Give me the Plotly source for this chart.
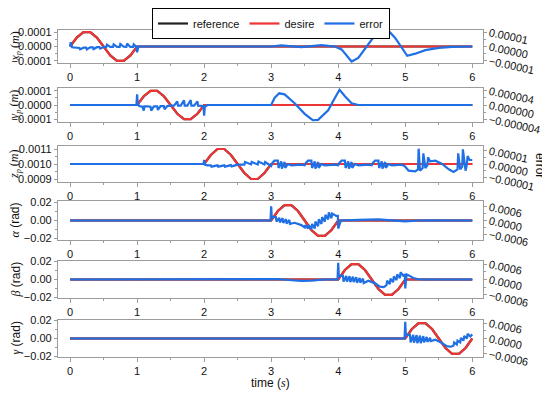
import plotly.graph_objects as go

# ---------------- data ----------------
# desired trajectories (left axes)
t_des_xp = [0.0, 0.1, 0.2, 0.3, 0.4, 0.5, 0.6, 0.7, 0.8, 0.9, 1.0, 6.0]
xp_des = [0, 6.2e-5, 1.0e-4, 1.0e-4, 6.2e-5, 0, -6.2e-5, -1.0e-4, -1.0e-4, -6.2e-5, 0, 0]

t_des_yp = [0.0, 1.0, 1.1, 1.2, 1.3, 1.4, 1.5, 1.6, 1.7, 1.8, 1.9, 2.0, 6.0]
yp_des = [0, 0, 6.2e-5, 1.0e-4, 1.0e-4, 6.2e-5, 0, -6.2e-5, -1.0e-4, -1.0e-4, -6.2e-5, 0, 0]

t_des_zp = [0.0, 2.0, 2.1, 2.2, 2.3, 2.4, 2.5, 2.6, 2.7, 2.8, 2.9, 3.0, 6.0]
zp_des = [0.001, 0.001, 0.00106, 0.0011, 0.0011, 0.00106, 0.001, 0.00094, 0.0009, 0.0009, 0.00094, 0.001, 0.001]

t_des_al = [0.0, 3.0, 3.1, 3.2, 3.3, 3.4, 3.5, 3.6, 3.7, 3.8, 3.9, 4.0, 6.0]
al_des = [0, 0, 0.0105, 0.017, 0.017, 0.0105, 0, -0.0105, -0.017, -0.017, -0.0105, 0, 0]

t_des_be = [0.0, 4.0, 4.1, 4.2, 4.3, 4.4, 4.5, 4.6, 4.7, 4.8, 4.9, 5.0, 6.0]
be_des = [0, 0, 0.0105, 0.017, 0.017, 0.0105, 0, -0.0105, -0.017, -0.017, -0.0105, 0, 0]

t_des_ga = [0.0, 5.0, 5.1, 5.2, 5.3, 5.4, 5.5, 5.6, 5.7, 5.8, 5.9, 6.0]
ga_des = [0, 0, 0.0105, 0.017, 0.017, 0.0105, 0, -0.0105, -0.017, -0.017, -0.0105, 0]

# tracking errors (right axes)
t_err_xp = [0, 0.01, 0.03, 0.1, 0.14, 0.15, 0.2, 0.24, 0.25, 0.3, 0.34, 0.35, 0.4, 0.44, 0.45,
            0.5, 0.54, 0.55, 0.6, 0.64, 0.65, 0.7, 0.74, 0.75, 0.8, 0.84, 0.85, 0.9, 0.94, 0.95,
            0.99, 1.0, 1.02, 1.05, 3.0, 3.15, 3.45, 3.75, 3.95, 4.05, 4.2, 4.3, 4.42, 4.55, 4.65,
            4.75, 4.85, 4.95, 5.03, 5.15, 5.3, 5.5, 5.7, 6.0]
xp_err = [0, 3e-6, -0.5e-6, -1e-6, -1e-6, -2e-6, -0.8e-6, -0.8e-6, -2e-6, -0.6e-6, -0.6e-6, -1.8e-6,
          -0.5e-6, -0.5e-6, -1.5e-6, -0.4e-6, -0.3e-6, 1.2e-6, -0.3e-6, -0.3e-6, 1.5e-6, -0.3e-6,
          -0.3e-6, 1.8e-6, -0.2e-6, -0.3e-6, 2e-6, -0.3e-6, -0.3e-6, 1.5e-6, -0.3e-6, -4e-6, 0, 0,
          0, 0.8e-6, -0.4e-6, 0.9e-6, 0, -2e-6, -10.5e-6, -8e-6, 0, 8e-6, 11.5e-6, 11e-6, 6e-6,
          -1e-6, -6.5e-6, -5e-6, -2.5e-6, -1e-6, -0.3e-6, 0]

t_err_yp = [0, 0.99, 1.0, 1.01, 1.03, 1.08, 1.1, 1.11, 1.15, 1.2, 1.21, 1.25, 1.3, 1.31, 1.35, 1.4,
            1.41, 1.45, 1.5, 1.55, 1.6, 1.61, 1.65, 1.7, 1.71, 1.75, 1.8, 1.81, 1.85, 1.9, 1.91,
            1.95, 1.99, 2.0, 2.01, 2.05, 3.0, 3.05, 3.12, 3.2, 3.35, 3.5, 3.62, 3.7, 3.85, 3.95,
            4.02, 4.1, 4.2, 4.3, 6.0]
yp_err = [0, 0, 3e-6, 0.5e-6, -0.3e-6, -0.5e-6, -1.6e-6, -0.4e-6, -0.4e-6, -0.5e-6, -1.6e-6,
          -0.4e-6, -0.4e-6, -1.4e-6, -0.3e-6, -0.3e-6, -1.2e-6, -0.3e-6, -0.2e-6, -0.2e-6, 1.0e-6,
          -0.2e-6, -0.2e-6, 1.3e-6, -0.2e-6, -0.2e-6, 1.4e-6, -0.2e-6, -0.2e-6, 1.0e-6, -0.2e-6,
          -0.3e-6, -0.3e-6, -3e-6, -0.5e-6, 0, 0, 2e-6, 3.3e-6, 3.0e-6, 0.5e-6, -2.5e-6, -4.3e-6,
          -4.2e-6, -1.5e-6, 2e-6, 4.3e-6, 2.5e-6, 0.5e-6, 0, 0]

t_err_zp = [0, 1.99, 2.0, 2.01, 2.05, 2.1, 2.11, 2.2, 2.21, 2.3, 2.31, 2.4, 2.41, 2.5, 2.6, 2.61,
            2.7, 2.71, 2.8, 2.81, 2.9, 2.91, 3.0,
            3.02, 3.05, 3.1, 3.11, 3.15, 3.16, 3.2, 3.21, 3.25, 3.3, 3.45,
            3.5, 3.52, 3.55, 3.6, 3.61, 3.65, 3.66, 3.7, 3.71, 3.75, 3.8, 3.95,
            4.0, 4.02, 4.05, 4.1, 4.11, 4.15, 4.16, 4.2, 4.21, 4.25, 4.3, 4.45,
            4.5, 4.52, 4.55, 4.6, 4.61, 4.65, 4.66, 4.7, 4.71, 4.75, 4.8, 4.95,
            5.0, 5.05, 5.15, 5.19, 5.2, 5.22, 5.26, 5.27, 5.3, 5.33, 5.34, 5.37, 5.45, 5.55,
            5.65, 5.72, 5.78, 5.79, 5.82, 5.85, 5.86, 5.9, 5.92, 5.93, 5.96, 6.0]
zp_err = [0, 0, 3e-6, -0.5e-6, -1e-6, -1e-6, -2e-6, -1e-6, -2e-6, -1e-6, -2e-6, -0.8e-6, -1.8e-6,
          -0.5e-6, -0.5e-6, 1.5e-6, -0.3e-6, 1.5e-6, -0.3e-6, 1.8e-6, -0.3e-6, 1.5e-6, -1.5e-6,
          1e-6, 2.5e-6, 2.5e-6, -3e-6, 2e-6, -3.5e-6, 1.5e-6, -3e-6, 0, -1e-6, -0.5e-6,
          -1e-6, 1e-6, 2.5e-6, 2.5e-6, -3e-6, 2e-6, -3.5e-6, 1.5e-6, -3e-6, 0, -1e-6, -0.5e-6,
          -1e-6, 1e-6, 2.5e-6, 2.5e-6, -3e-6, 2e-6, -3.5e-6, 1.5e-6, -3e-6, 0, -1e-6, -0.5e-6,
          -1e-6, 1e-6, 2.5e-6, 2.5e-6, -3e-6, 2e-6, -3.5e-6, 1.5e-6, -3e-6, 0, -1e-6, -0.5e-6,
          -2e-6, -5e-6, -5.5e-6, -4e-6, 11.5e-6, -5e-6, -3e-6, 8e-6, -3e-6, -1e-6, 5e-6, 2e-6,
          2.5e-6, 0, -4e-6, -6e-6, -4e-6, 8e-6, -4e-6, -2e-6, 11e-6, -5e-6, 0, 6e-6, 3e-6, 3e-6]

t_err_al = [0, 2.99, 3.0, 3.01, 3.03, 3.07, 3.08, 3.12, 3.13, 3.17, 3.18, 3.22, 3.23, 3.27, 3.28,
            3.35, 3.45, 3.5, 3.51, 3.55, 3.56, 3.6, 3.61, 3.65, 3.66, 3.7, 3.71, 3.75, 3.76, 3.8,
            3.81, 3.85, 3.86, 3.9, 3.91, 3.97, 3.995, 4.0, 4.04, 4.1, 4.3, 4.6, 4.8, 5.0, 5.2,
            5.4, 6.0]
al_err = [0, 0, 6.2e-4, 1.0e-4, 1.5e-4, 1.5e-4, -0.5e-4, 1.2e-4, -0.8e-4, 1.0e-4, -1.0e-4,
          0.6e-4, -1.3e-4, 0.2e-4, -1.5e-4, -1.0e-4, -2.0e-4, -3.0e-4, -2.0e-4, -3.5e-4, -2.0e-4,
          -3.8e-4, -1.5e-4, -3.5e-4, -0.5e-4, -2.5e-4, 0.5e-4, -1.5e-4, 1.5e-4, -0.5e-4, 2.5e-4,
          0.5e-4, 3.5e-4, 1.0e-4, 3.0e-4, 2.0e-4, 2.0e-4, -3.5e-4, 0, 0, 0.3e-4, 0.5e-4, 0.2e-4,
          -0.4e-4, 0, 0.1e-4, 0]

t_err_be = [0, 3.0, 3.1, 3.3, 3.45, 3.6, 3.8, 3.99, 4.0, 4.01, 4.03, 4.07, 4.08, 4.12, 4.13,
            4.17, 4.18, 4.22, 4.23, 4.27, 4.28, 4.32, 4.33, 4.37, 4.38, 4.45, 4.55, 4.62, 4.68,
            4.72, 4.73, 4.77, 4.78, 4.82, 4.83, 4.87, 4.88, 4.92, 4.93, 4.97, 4.995, 5.0, 5.02,
            5.06, 5.12, 5.2, 5.3, 6.0]
be_err = [0, 0, 0.2e-4, -0.3e-4, -0.5e-4, -0.4e-4, 0, 0, 6.5e-4, 1.0e-4, 1.5e-4, 1.5e-4,
          -0.8e-4, 1.4e-4, -0.8e-4, 1.3e-4, -1.0e-4, 1.1e-4, -1.0e-4, 0.9e-4, -1.2e-4, 0.6e-4,
          -1.2e-4, 0.3e-4, -1.4e-4, -0.5e-4, -1.5e-4, -2.8e-4, -3.0e-4, -2.2e-4, -0.5e-4,
          -1.8e-4, 0.3e-4, -1.0e-4, 1.2e-4, -0.2e-4, 2.0e-4, 0.5e-4, 2.8e-4, 1.5e-4, 2.0e-4,
          -3.5e-4, 2.0e-4, 1.5e-4, 0.6e-4, 0.1e-4, 0, 0]

t_err_ga = [0, 4.99, 5.0, 5.01, 5.03, 5.07, 5.08, 5.12, 5.13, 5.17, 5.18, 5.22, 5.23, 5.27,
            5.28, 5.32, 5.33, 5.37, 5.38, 5.45, 5.55, 5.62, 5.68, 5.72, 5.73, 5.77, 5.78, 5.82,
            5.83, 5.87, 5.88, 5.92, 5.93, 5.97, 6.0]
ga_err = [0, 0, 6.5e-4, 1.0e-4, 1.6e-4, 1.5e-4, -1.5e-4, 1.4e-4, -1.6e-4, 1.3e-4, -1.8e-4,
          1.1e-4, -1.8e-4, 0.9e-4, -1.5e-4, 0.6e-4, -1.3e-4, 0.3e-4, -1.0e-4, -0.5e-4, -1.8e-4,
          -3.0e-4, -3.2e-4, -2.8e-4, -1.5e-4, -2.3e-4, -0.8e-4, -1.5e-4, 0.2e-4, -0.8e-4,
          1.0e-4, 0.0, 1.8e-4, 0.8e-4, 1.6e-4]

# axis settings (ticks)
x_ticks = [0, 1, 2, 3, 4, 5, 6]

# ---------------- figure ----------------
RED = "#EE3535"
BLUE = "#1F6FE5"
BLACK = "#222222"
GRAY = "#9c9c9c"
SANS = "Liberation Sans, Arial, sans-serif"
SERIF = "Liberation Serif, Times New Roman, serif"

panels = [
    dict(td=t_des_xp, d=xp_des, te=t_err_xp, e=xp_err, px=(30, 63),
         lr=[-1.15e-4, 1.15e-4], ld=1e-4, lf=".4f", rr=[-1.15e-5, 1.15e-5], rd=1e-5, rf=".5f",
         title="<i>x</i><sub><i>p</i></sub> (<i>m</i>)", tfont=SERIF),
    dict(td=t_des_yp, d=yp_des, te=t_err_yp, e=yp_err, px=(88, 122),
         lr=[-1.2e-4, 1.2e-4], ld=1e-4, lf=".4f", rr=[-4.8e-6, 4.8e-6], rd=4e-6, rf=".6f",
         title="<i>y</i><sub><i>p</i></sub> (<i>m</i>)", tfont=SERIF),
    dict(td=t_des_zp, d=zp_des, te=t_err_zp, e=zp_err, px=(146, 182),
         lr=[0.00088, 0.00112], ld=1e-4, lf=".4f", rr=[-1.35e-5, 1.35e-5], rd=1e-5, rf=".5f",
         title="<i>z</i><sub><i>p</i></sub> (<i>m</i>)", tfont=SERIF),
    dict(td=t_des_al, d=al_des, te=t_err_al, e=al_err, px=(201, 240),
         lr=[-0.0216, 0.0216], ld=0.02, lf=".2f", rr=[-8.5e-4, 8.5e-4], rd=6e-4, rf=".4f",
         title="<span style='font-family:Liberation Serif'><i>α</i></span> (rad)", tfont=SANS),
    dict(td=t_des_be, d=be_des, te=t_err_be, e=be_err, px=(261, 298),
         lr=[-0.0205, 0.0205], ld=0.02, lf=".2f", rr=[-7.2e-4, 7.2e-4], rd=6e-4, rf=".4f",
         title="<span style='font-family:Liberation Serif'><i>β</i></span> (rad)", tfont=SANS),
    dict(td=t_des_ga, d=ga_des, te=t_err_ga, e=ga_err, px=(320, 357),
         lr=[-0.0205, 0.0205], ld=0.02, lf=".2f", rr=[-7.2e-4, 7.2e-4], rd=6e-4, rf=".4f",
         title="<span style='font-family:Liberation Serif'><i>γ</i></span> (rad)", tfont=SANS),
]

# The page body keeps the browser's default 8 px margin, so the figure is
# made 8 px smaller and all reference pixel positions are shifted by 8 px.
OFF = 8
W, H = 550 - OFF, 393 - OFF
ML, MT = 58 - OFF, 30 - OFF
MR = W - (483 - OFF)
MB = H - (357 - OFF)
PH = H - MT - MB
PW = W - ML - MR


def py(px):
    """reference pixel row -> paper y"""
    return (H - MB - (px - OFF)) / PH


def pxx(px):
    """reference pixel column -> paper x"""
    return (px - OFF - ML) / PW


fig = go.Figure()
layout = dict(
    width=W, height=H, autosize=False,
    margin=dict(l=ML, r=MR, t=MT, b=MB, pad=0, autoexpand=False),
    paper_bgcolor="white", plot_bgcolor="white",
    font=dict(family=SANS, size=11, color="#111111"),
    showlegend=True,
    legend=dict(orientation="h", x=pxx(271), xanchor="center", y=1.0, yanchor="top",
                xref="paper", yref="container",
                bordercolor="black", borderwidth=1, bgcolor="white",
                font=dict(family=SANS, size=11, color="#111111"),
                itemwidth=30, tracegroupgap=0),
)
annotations = []

for i, p in enumerate(panels):
    xn = i + 1
    yl = 2 * i + 1
    yr = 2 * i + 2
    xs = "x" if xn == 1 else f"x{xn}"
    yls = "y" if yl == 1 else f"y{yl}"
    yrs = f"y{yr}"
    first = i == 0
    fig.add_trace(go.Scatter(x=p["td"], y=p["d"], mode="lines", name="reference",
                             line=dict(color=BLACK, width=2.2), xaxis=xs, yaxis=yls,
                             showlegend=first, legendrank=1))
    fig.add_trace(go.Scatter(x=p["td"], y=p["d"], mode="lines", name="desire",
                             line=dict(color=RED, width=2.2), xaxis=xs, yaxis=yls,
                             showlegend=first, legendrank=2))
    fig.add_trace(go.Scatter(x=p["te"], y=p["e"], mode="lines", name="error",
                             line=dict(color=BLUE, width=2.2), xaxis=xs, yaxis=yrs,
                             showlegend=first, legendrank=3))
    top, bot = p["px"]
    dom = [py(bot), py(top)]
    layout["xaxis" if xn == 1 else f"xaxis{xn}"] = dict(
        domain=[0, 1], anchor=yls, range=[-0.18, 6.16], automargin=False,
        tickmode="array", tickvals=x_ticks, ticks="outside", ticklen=4, tickcolor=GRAY,
        minor=dict(ticks="outside", ticklen=2, dtick=0.5, tick0=0, tickcolor=GRAY),
        showline=True, mirror=True, linecolor=GRAY, linewidth=1.2,
        showgrid=False, zeroline=False, tickfont=dict(size=11, family=SANS))
    layout["yaxis" if yl == 1 else f"yaxis{yl}"] = dict(
        domain=dom, anchor=xs, range=p["lr"], tickmode="linear", tick0=0, dtick=p["ld"],
        tickformat=p["lf"], ticks="outside", ticklen=3, tickcolor=GRAY, automargin=False,
        minor=dict(ticks="outside", ticklen=2, dtick=p["ld"] / 2, tick0=0, tickcolor=GRAY),
        showline=True, linecolor=GRAY, linewidth=1.2, showgrid=False, zeroline=False,
        tickfont=dict(size=11, family=SANS))
    layout[f"yaxis{yr}"] = dict(
        overlaying=yls, side="right", anchor=xs, range=p["rr"], tickmode="linear", tick0=0,
        dtick=p["rd"], tickformat=p["rf"], tickangle=12, ticks="outside", ticklen=3,
        tickcolor=GRAY, automargin=False,
        minor=dict(ticks="outside", ticklen=2, dtick=p["rd"] / 2, tick0=0, tickcolor=GRAY),
        showline=True, linecolor=GRAY, linewidth=1.2, showgrid=False, zeroline=False,
        tickfont=dict(size=11, family=SANS))
    annotations.append(dict(
        text=p["title"], xref="paper", yref="paper", x=pxx(15),
        y=py((top + bot) / 2), textangle=-90, showarrow=False,
        xanchor="center", yanchor="middle", borderpad=0,
        font=dict(family=p["tfont"], size=12, color="#111111")))

annotations.append(dict(text="error", xref="paper", yref="paper", x=pxx(540),
                        y=py(165), textangle=90, showarrow=False,
                        xanchor="center", yanchor="middle", borderpad=0,
                        font=dict(family=SANS, size=12, color="#111111")))
annotations.append(dict(
    text="time (<span style='font-family:Liberation Serif'><i>s</i></span>)",
    xref="paper", yref="paper", x=pxx(270), y=py(383), showarrow=False,
    xanchor="center", yanchor="middle",
    font=dict(family=SANS, size=12, color="#111111")))
layout["annotations"] = annotations

fig.update_layout(**layout)
fig.write_html("out.html")
